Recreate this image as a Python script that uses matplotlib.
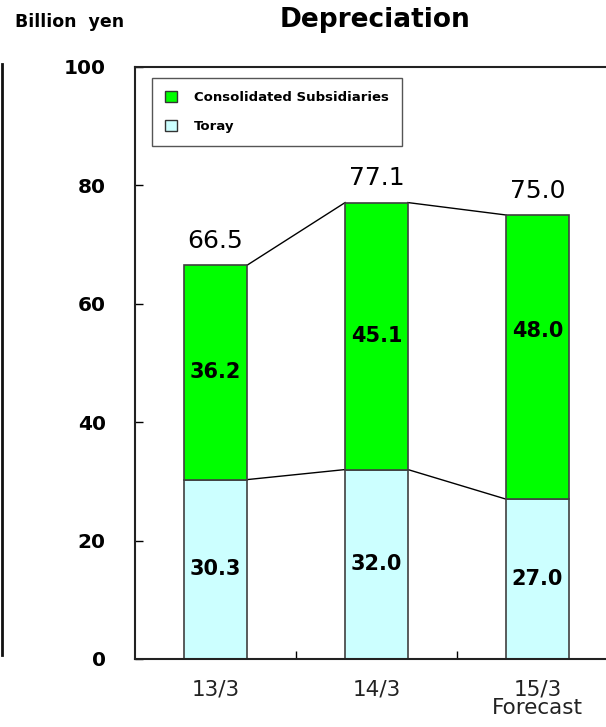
import numpy as np
import matplotlib
matplotlib.use('Agg')
import matplotlib.pyplot as plt
from matplotlib.patches import Patch
from matplotlib.lines import Line2D

# dane (mld jenów)
lata = ['13/3', '14/3', '15/3\nForecast']
toray = [30.3, 32.0, 27.0]
spolki_zal = [36.2, 45.1, 48.0]
razem = [66.5, 77.1, 75.0]

ZIELONY = '#00ff00'
BLEKIT = '#ccffff'
KRAWEDZ = '#404040'

fig = plt.figure(figsize=(6.06, 7.27), dpi=100)
ax = fig.add_axes([135 / 606, 68 / 727, 483 / 606, 592 / 727])

x = np.arange(len(lata))
w = 0.39
ax.bar(x, toray, w, color=BLEKIT, edgecolor=KRAWEDZ, linewidth=1.2, zorder=2)
ax.bar(x, spolki_zal, w, bottom=toray, color=ZIELONY, edgecolor=KRAWEDZ,
       linewidth=1.2, zorder=2)

# linie łączące słupki
for i in range(len(x) - 1):
    for poziom in (toray, razem):
        ax.plot([x[i] + w / 2, x[i + 1] - w / 2], [poziom[i], poziom[i + 1]],
                color='black', linewidth=1, zorder=1)

# etykiety wartości
przes_zielony = [0, 0, 19]
for i in range(len(x)):
    ax.annotate(f'{toray[i]:.1f}', (x[i], toray[i] / 2), ha='center', va='center',
                fontsize=15, fontweight='bold')
    ax.annotate(f'{spolki_zal[i]:.1f}', (x[i], toray[i] + spolki_zal[i] / 2),
                xytext=(0, przes_zielony[i]), textcoords='offset points',
                ha='center', va='center', fontsize=15, fontweight='bold')
    ax.annotate(f'{razem[i]:.1f}', (x[i], razem[i]), xytext=(0, 9),
                textcoords='offset points', ha='center', va='bottom', fontsize=18)

ax.set_xlim(-0.5, 2.5)
ax.set_ylim(0, 100)
ax.set_yticks(range(0, 101, 20))
ax.set_yticklabels([str(v) for v in range(0, 101, 20)], fontsize=14.5, fontweight='bold')
ax.tick_params(axis='y', direction='in', length=6, pad=21, width=1)
ax.set_xticks(x)
ax.set_xticklabels(lata, fontsize=15.5, color='#222222', linespacing=0.9)
ax.tick_params(axis='x', length=0, pad=15)
ax.set_xticks([0.5, 1.5], minor=True)
ax.tick_params(axis='x', which='minor', direction='in', length=6, width=1)
for s in ax.spines.values():
    s.set_linewidth(1.5)
    s.set_color('#222222')
ax.spines['right'].set_visible(False)

leg = ax.legend(handles=[Patch(facecolor=ZIELONY, edgecolor='#333333', label='Consolidated Subsidiaries'),
                         Patch(facecolor=BLEKIT, edgecolor='#333333', label='Toray')],
                loc='upper left', bbox_to_anchor=(17 / 483, 1 - 11 / 592), borderaxespad=0,
                fancybox=False, edgecolor='#555555', framealpha=1,
                prop={'size': 9.5, 'weight': 'bold'}, handlelength=0.9, handleheight=0.9,
                labelspacing=1.2, borderpad=1.0, handletextpad=1.3)
leg.get_frame().set_linewidth(1)

fig.text(375 / 606, 1 - 20 / 727, 'Depreciation', ha='center', va='center',
         fontsize=19, fontweight='bold')
fig.text(15 / 606, 1 - 22 / 727, 'Billion  yen', ha='left', va='center',
         fontsize=12.5, fontweight='bold')
fig.add_artist(Line2D([1.5 / 606, 1.5 / 606], [1 - 64 / 727, 1 - 655 / 727],
                      transform=fig.transFigure, color='#111111', linewidth=2))

fig.savefig('out.png', dpi=100)
